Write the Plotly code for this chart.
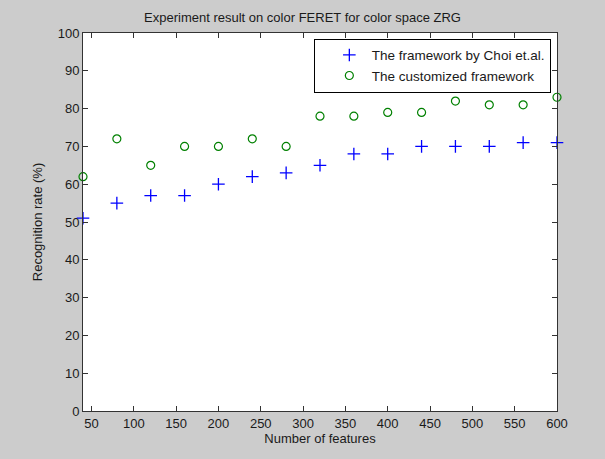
import plotly.graph_objects as go

features = [40, 80, 120, 160, 200, 240, 280, 320, 360, 400, 440, 480, 520, 560, 600]
choi = [51, 55, 57, 57, 60, 62, 63, 65, 68, 68, 70, 70, 70, 71, 71]
custom = [62, 72, 65, 70, 70, 72, 70, 78, 78, 79, 79, 82, 81, 81, 83]

x_ticks = [50, 100, 150, 200, 250, 300, 350, 400, 450, 500, 550, 600]
y_ticks = [0, 10, 20, 30, 40, 50, 60, 70, 80, 90, 100]

font = "Liberation Sans, Arial, sans-serif"
fs = 13
fig = go.Figure()
fig.add_trace(go.Scatter(
    x=features, y=choi, mode="markers", name="The framework by Choi et.al.",
    marker=dict(symbol="cross-thin", size=9, color="#0000ff",
                line=dict(color="#0000ff", width=1.3)),
    cliponaxis=False))
fig.add_trace(go.Scatter(
    x=features, y=custom, mode="markers", name="The customized framework",
    marker=dict(symbol="circle-open", size=8, color="#008000",
                line=dict(color="#008000", width=1.2)),
    cliponaxis=False))

axis_common = dict(
    showline=True, linecolor="#333333", linewidth=1, mirror="allticks",
    ticks="inside", ticklen=5, tickcolor="#333333", showgrid=False,
    zeroline=False, tickfont=dict(size=fs, color="#1a1a1a", family=font),
)
fig.update_xaxes(range=[40, 600], tickvals=x_ticks,
                 title=dict(text="Number of features", standoff=3,
                            font=dict(size=fs, color="#1a1a1a", family=font)),
                 **axis_common)
fig.update_yaxes(range=[0, 100], tickvals=y_ticks,
                 title=dict(text="Recognition rate (%)", standoff=12,
                            font=dict(size=fs, color="#1a1a1a", family=font)),
                 **axis_common)

fig.update_layout(
    width=605, height=459,
    margin=dict(l=83, r=48, t=33, b=48),
    paper_bgcolor="#cccccc", plot_bgcolor="#ffffff",
    font=dict(family=font, size=fs, color="#1a1a1a"),
    title=dict(text="Experiment result on color FERET for color space ZRG",
               x=0.5, xanchor="center", y=1 - 17 / 459, yanchor="middle",
               font=dict(size=fs, color="#1a1a1a", family=font)),
    showlegend=True,
    legend=dict(x=0.987, xanchor="right", y=0.985, yanchor="top",
                bgcolor="#ffffff", bordercolor="#000000", borderwidth=1,
                font=dict(size=13.5, color="#1a1a1a", family=font),
                indentation=12, itemwidth=35, tracegroupgap=0),
)

fig.write_html("out.html")
